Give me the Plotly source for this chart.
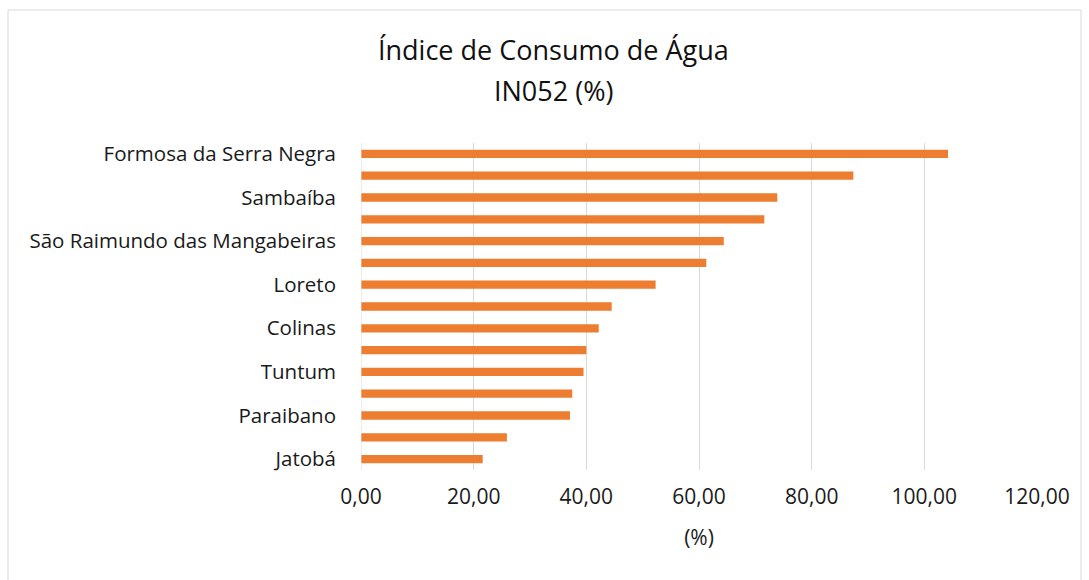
import plotly.graph_objects as go

# Data
categories = [
    "Formosa da Serra Negra", "", "Sambaíba", "", "São Raimundo das Mangabeiras",
    "", "Loreto", "", "Colinas", "", "Tuntum", "", "Paraibano", "", "Jatobá",
]
values = [104.2, 87.4, 73.9, 71.6, 64.4, 61.3, 52.3, 44.5, 42.2, 40.0, 39.5, 37.5, 37.1, 25.9, 21.6]
x_ticks = [0, 20, 40, 60, 80, 100, 120]
x_tick_labels = ["0,00", "20,00", "40,00", "60,00", "80,00", "100,00", "120,00"]
title_line1 = "Índice de Consumo de Água"
title_line2 = "IN052 (%)"
x_title = "(%)"

W, H = 1089, 580
L, R, T, B = 361, 52, 143, 110
pw, ph = W - L - R, H - T - B

def px(x):
    return (x - L) / pw

def py(y):
    return (H - B - y) / ph

positions = list(range(len(categories)))
font_family = "Open Sans, Lato, sans-serif"

fig = go.Figure(
    go.Bar(
        x=values,
        y=positions,
        orientation="h",
        marker=dict(color="#ED7D31", line=dict(width=0)),
        hoverinfo="x",
    )
)

fig.update_layout(
    width=W,
    height=H,
    margin=dict(l=L, r=R, t=T, b=B),
    paper_bgcolor="white",
    plot_bgcolor="white",
    bargap=0.62,
    showlegend=False,
    font=dict(family=font_family, color="#1a1a1a", size=16),
    xaxis=dict(
        range=[0, 120],
        tickvals=x_ticks,
        ticktext=x_tick_labels,
        showgrid=True,
        gridcolor="#d9d9d9",
        gridwidth=1,
        zeroline=False,
        showline=False,
        ticks="",
        ticklabelstandoff=12,
        tickfont=dict(size=21),
        title=dict(text=x_title, font=dict(size=21), standoff=21),
    ),
    yaxis=dict(
        range=[len(categories) - 0.5, -0.5],
        tickvals=positions,
        ticktext=categories,
        showgrid=False,
        zeroline=False,
        showline=False,
        ticks="",
        ticklabelstandoff=24,
        tickfont=dict(size=20.5),
    ),
    shapes=[
        dict(
            type="rect", xref="paper", yref="paper",
            x0=px(8), x1=px(1081), y0=py(600), y1=py(10),
            line=dict(color="#d9d9d9", width=1), fillcolor="rgba(0,0,0,0)",
            layer="below",
        ),
        dict(
            type="line", xref="x", yref="paper",
            x0=0, x1=0, y0=0, y1=1,
            line=dict(color="#d9d9d9", width=1),
        ),
    ],
    annotations=[
        dict(text=title_line1, xref="paper", yref="paper", x=px(553), y=py(50),
             showarrow=False, font=dict(size=27, color="#111111"), xanchor="center", yanchor="middle"),
        dict(text=title_line2, xref="paper", yref="paper", x=px(553), y=py(90),
             showarrow=False, font=dict(size=27, color="#111111"), xanchor="center", yanchor="middle"),
    ],
)

fig.write_html(
    "out.html",
    config={"displayModeBar": False},
    post_script="document.body.style.margin='0';",
)
